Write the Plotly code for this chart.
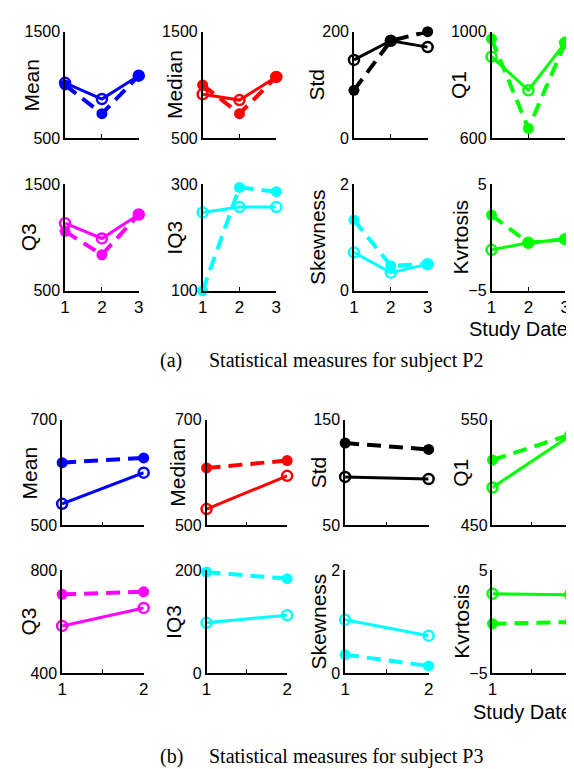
import plotly.graph_objects as go

W, H = 574, 769

# ---------------- data ----------------
measures = ["Mean", "Median", "Std", "Q1", "Q3", "IQ3", "Skewness", "Kvrtosis"]
colors = ["#0000FF", "#FF0000", "#000000", "#00FF00", "#FF00FF", "#00FFFF", "#00FFFF", "#00FF00"]

# (a) subject P2, study dates 1..3
dates_a = [1, 2, 3]
p2_mean_solid = [1020, 868, 1087]
p2_mean_dash = [1000, 730, 1087]
p2_median_solid = [913, 858, 1075]
p2_median_dash = [1000, 730, 1075]
p2_std_solid = [147, 183, 171]
p2_std_dash = [90, 183, 200]
p2_q1_solid = [906, 780, 958]
p2_q1_dash = [973, 637, 958]
p2_q3_solid = [1134, 991, 1216]
p2_q3_dash = [1058, 838, 1216]
p2_iq3_solid = [247, 257, 257]
p2_iq3_dash = [100, 294, 286]
p2_skew_solid = [0.72, 0.34, 0.50]
p2_skew_dash = [1.33, 0.47, 0.50]
p2_kurt_solid = [-1.16, -0.5, -0.16]
p2_kurt_dash = [2.1, -0.5, -0.16]

# (b) subject P3, study dates 1..2
dates_b = [1, 2]
p3_mean_solid = [541, 600]
p3_mean_dash = [619, 628]
p3_median_solid = [531, 594]
p3_median_dash = [609, 623]
p3_std_solid = [96, 94]
p3_std_dash = [128, 122]
p3_q1_solid = [486, 535]
p3_q1_dash = [512, 536]
p3_q3_solid = [584, 654]
p3_q3_dash = [707, 717]
p3_iq3_solid = [98, 113]
p3_iq3_dash = [197, 184]
p3_skew_solid = [1.04, 0.73]
p3_skew_dash = [0.36, 0.14]
p3_kurt_solid = [2.74, 2.64]
p3_kurt_dash = [-0.19, -0.03]

ranges_a = [[500, 1500], [500, 1500], [0, 200], [600, 1000], [500, 1500], [100, 300], [0, 2], [-5, 5]]
ranges_b = [[500, 700], [500, 700], [50, 150], [450, 550], [400, 800], [0, 200], [0, 2], [-5, 5]]

x_ticks_a = [1, 2, 3]
x_ticktext_a = ["1", "2", "3"]
x_ticks_b = [1, 1.5, 2]
x_ticktext_b = ["1", "", "2"]

caption_a = ("(a)", "Statistical measures for subject P2")
caption_b = ("(b)", "Statistical measures for subject P3")
xlabel = "Study Date"

solid_a = [p2_mean_solid, p2_median_solid, p2_std_solid, p2_q1_solid,
           p2_q3_solid, p2_iq3_solid, p2_skew_solid, p2_kurt_solid]
dash_a = [p2_mean_dash, p2_median_dash, p2_std_dash, p2_q1_dash,
          p2_q3_dash, p2_iq3_dash, p2_skew_dash, p2_kurt_dash]
solid_b = [p3_mean_solid, p3_median_solid, p3_std_solid, p3_q1_solid,
           p3_q3_solid, p3_iq3_solid, p3_skew_solid, p3_kurt_solid]
dash_b = [p3_mean_dash, p3_median_dash, p3_std_dash, p3_q1_dash,
          p3_q3_dash, p3_iq3_dash, p3_skew_dash, p3_kurt_dash]

# ---------------- layout (pixel boxes) ----------------
cols_a = [(53, 128), (193, 268), (347, 422), (487, 562)]
rows_a = [(16, 125), (172, 281)]
cols_b = [(50, 133), (197, 279), (338, 423), (488, 567)]
rows_b = [(413, 521), (567, 672)]
title_x_a = [19, 165, 309, 454, 16, 164, 310, 455]
title_x_b = [17, 168, 311, 456, 16, 164, 311, 457]

SANS = "Liberation Sans, Arial, sans-serif"
SERIF = "Liberation Serif, Times New Roman, serif"

fig = go.Figure()
layout = dict(
    width=W, height=H, margin=dict(l=0, r=0, t=0, b=0),
    paper_bgcolor="white", plot_bgcolor="white", showlegend=False,
    font=dict(family=SANS, size=16, color="black"),
)
annotations = []


def xd(x0, x1):
    return [x0 / W, x1 / W]


def yd(y0, y1):
    return [1 - y1 / H, 1 - y0 / H]


idx = 0
for panel in range(2):
    cols = cols_a if panel == 0 else cols_b
    rows = rows_a if panel == 0 else rows_b
    dates = dates_a if panel == 0 else dates_b
    rngs = ranges_a if panel == 0 else ranges_b
    sol = solid_a if panel == 0 else solid_b
    das = dash_a if panel == 0 else dash_b
    tx = title_x_a if panel == 0 else title_x_b
    xt = x_ticks_a if panel == 0 else x_ticks_b
    xtt = x_ticktext_a if panel == 0 else x_ticktext_b
    for m in range(8):
        idx += 1
        r, c = divmod(m, 4)
        sfx = "" if idx == 1 else str(idx)
        xa, ya = "x" + sfx, "y" + sfx
        col = colors[m]
        fig.add_trace(go.Scatter(
            x=dates, y=sol[m], xaxis=xa, yaxis=ya, mode="lines+markers",
            line=dict(color=col, width=3),
            marker=dict(symbol="circle-open", size=10, color=col, line=dict(width=2.5, color=col)),
            cliponaxis=False))
        fig.add_trace(go.Scatter(
            x=dates, y=das[m], xaxis=xa, yaxis=ya, mode="lines+markers",
            line=dict(color=col, width=4, dash="14px,8px"),
            marker=dict(symbol="circle", size=11, color=col),
            cliponaxis=False))
        x0, x1 = cols[c]
        y0, y1 = rows[r]
        lo, hi = rngs[m]
        layout["xaxis" + sfx] = dict(
            domain=xd(x0, x1), anchor=ya, range=[dates[0], dates[-1]],
            showline=True, linecolor="black", linewidth=1.5, showgrid=False, zeroline=False,
            ticks="inside", ticklen=4, tickcolor="black", tickvals=xt, ticktext=xtt,
            showticklabels=(r == 1), tickfont=dict(size=17, family=SANS))
        layout["yaxis" + sfx] = dict(
            domain=yd(y0, y1), anchor=xa, range=[lo, hi],
            showline=True, linecolor="black", linewidth=1.5, showgrid=False, zeroline=False,
            ticks="inside", ticklen=4, tickcolor="black", tickvals=[lo, hi],
            tickfont=dict(size=16, family=SANS))
        annotations.append(dict(
            text=measures[m], xref="paper", yref="paper",
            x=tx[m] / W, y=1 - ((y0 + y1) / 2) / H, xanchor="center", yanchor="middle",
            textangle=-90, showarrow=False, font=dict(size=21, family=SANS)))

# x labels
annotations.append(dict(text=xlabel, xref="paper", yref="paper", x=514 / W, y=1 - 320 / H,
                        xanchor="center", yanchor="middle", showarrow=False,
                        font=dict(size=20, family=SANS)))
annotations.append(dict(text=xlabel, xref="paper", yref="paper", x=519 / W, y=1 - 712 / H,
                        xanchor="center", yanchor="middle", showarrow=False,
                        font=dict(size=20, family=SANS)))
# captions
for cap, yc in ((caption_a, 352), (caption_b, 757)):
    annotations.append(dict(text=cap[0], xref="paper", yref="paper", x=148 / W, y=1 - yc / H,
                            xanchor="left", yanchor="middle", showarrow=False,
                            font=dict(size=20, family=SERIF)))
    annotations.append(dict(text=cap[1], xref="paper", yref="paper", x=197 / W, y=1 - yc / H,
                            xanchor="left", yanchor="middle", showarrow=False,
                            font=dict(size=20, family=SERIF)))

layout["annotations"] = annotations
fig.update_layout(**layout)
fig.write_html("out.html")
